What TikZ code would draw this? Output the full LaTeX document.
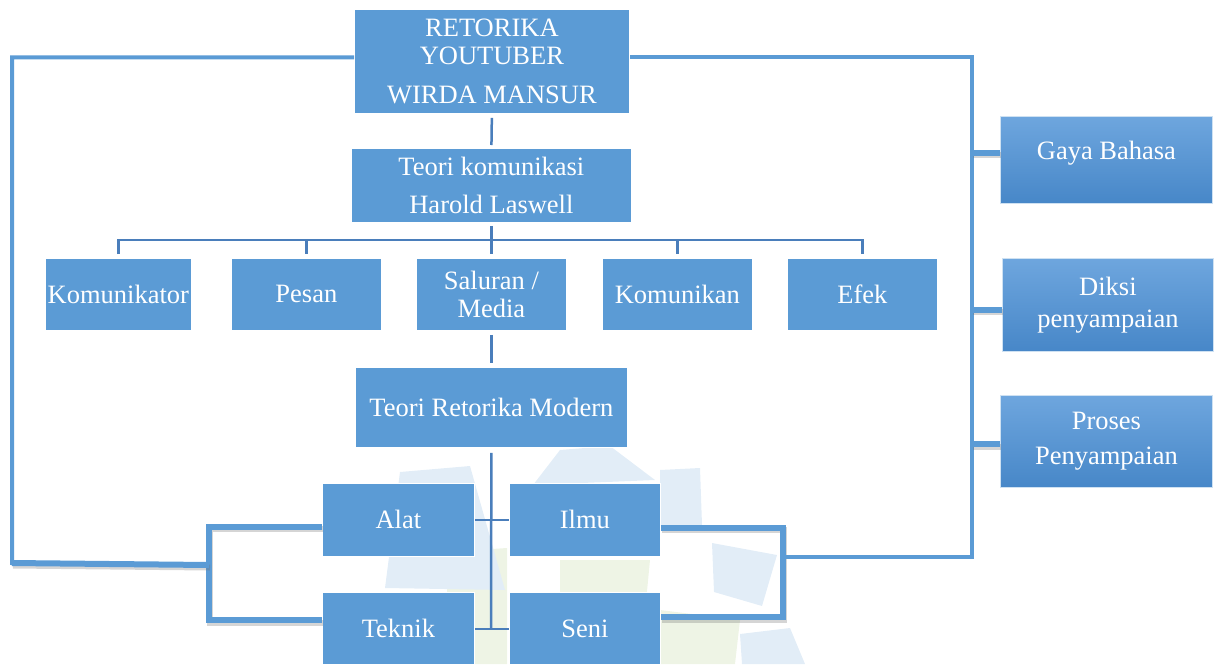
\documentclass[tikz,border=0pt]{standalone}
\usepackage{fontspec}
\setmainfont{Liberation Serif}
\usetikzlibrary{calc}
\definecolor{boxblue}{HTML}{5B9BD5}
\definecolor{treeblue}{HTML}{4A7EBB}
\definecolor{gtop}{HTML}{6EA6DE}
\definecolor{gbot}{HTML}{4787C8}
\definecolor{wmblue}{HTML}{E2EDF7}
\definecolor{wmgreen}{HTML}{EEF4E5}
\begin{document}
\begin{tikzpicture}[x=1pt,y=-1pt,
  box/.style={fill=boxblue, draw=white, line width=0.8pt, text=white,
    font=\fontsize{26.5}{30}\selectfont, align=center, inner sep=0pt, anchor=north west},
  rbox/.style={box, top color=gtop, bottom color=gbot, draw=white!70!boxblue},
  txt/.style={text=white, font=\fontsize{26.5}{30}\selectfont, align=center, inner sep=0pt},
  tree/.style={draw=treeblue, line width=2.5pt},
  frame/.style={draw=boxblue, line width=4pt},
  bracket/.style={draw=boxblue, line width=6pt,
    preaction={draw=black!55, opacity=.3, line width=6pt, transform canvas={shift={(1pt,-2.5pt)}}}},
  wmb/.style={fill=wmblue},
  wmg/.style={fill=wmgreen}
]
\useasboundingbox (0,0) rectangle (1214,664);
% faint watermark logo
\fill[wmg] (447,552) -- (507,548) -- (507,664) -- (447,664) -- cycle;
\fill[wmg] (560,560) -- (650,560) -- (640,664) -- (560,664) -- cycle;
\fill[wmg] (660,610) -- (740,620) -- (735,664) -- (660,664) -- cycle;
\fill[wmb] (400,472) -- (470,466) -- (505,590) -- (385,588) -- cycle;
\fill[wmb] (533,485) -- (560,450) -- (610,446) -- (655,480) -- cycle;
\fill[wmb] (660,470) -- (700,468) -- (702,525) -- (660,525) -- cycle;
\fill[wmb] (712,543) -- (777,555) -- (762,606) -- (714,592) -- cycle;
\fill[wmb] (740,634) -- (790,628) -- (805,664) -- (742,664) -- cycle;

% boxes
\node[box, minimum width=275pt, minimum height=104pt] (top) at (354,9)
  {RETORIKA\\[-2pt]YOUTUBER\\[9pt]WIRDA MANSUR};
\node[box, minimum width=280pt, minimum height=74pt] (tk) at (351,148)
  {Teori komunikasi\\[8pt]Harold Laswell};
\node[box, minimum width=146pt, minimum height=72pt] (k1) at (45,258) {Komunikator};
\node[box, minimum width=150pt, minimum height=72pt] (k2) at (231,258) {Pesan};
\node[box, minimum width=150pt, minimum height=72pt] (k3) at (416,258) {Saluran /\\[-2pt]Media};
\node[box, minimum width=150pt, minimum height=72pt] (k4) at (602,258) {Komunikan};
\node[box, minimum width=150pt, minimum height=72pt] (k5) at (787,258) {Efek};
\node[box, minimum width=272pt, minimum height=80pt] (tr) at (355,367) {Teori Retorika Modern};
\node[box, minimum width=152pt, minimum height=73pt] (al) at (322,483) {Alat};
\node[box, minimum width=151pt, minimum height=73pt] (il) at (509,483) {Ilmu};
\node[box, minimum width=152pt, minimum height=72pt] (te) at (322,592) {Teknik};
\node[box, minimum width=151pt, minimum height=72pt] (se) at (509,592) {Seni};
\node[rbox, minimum width=212pt, minimum height=87pt] (gb) at (1000,116) {};
\node[txt] (gbt) at ([yshift=7pt]gb.center) {Gaya Bahasa};
\node[rbox, minimum width=211pt, minimum height=93pt] (dk) at (1002,258) {Diksi\\[2pt]penyampaian};
\node[rbox, minimum width=212pt, minimum height=92pt] (ps) at (1000,395) {Proses\\[5pt]Penyampaian};

% tree connectors
\coordinate (bar) at (491,240);
\coordinate (trunk) at (491,629);
\draw[tree, shorten <=4pt, shorten >=3pt] (top.south) -- (tk.north);
\draw[tree, shorten <=3pt] (tk.south) -- (tk.south |- bar);
\draw[tree, shorten <=4pt, shorten >=4pt] (k1.north) -- (k1.north |- bar) -- (k5.north |- bar) -- (k5.north);
\draw[tree, shorten >=4pt] (k2.north |- bar) -- (k2.north);
\draw[tree, shorten >=4pt] (k3.north |- bar) -- (k3.north);
\draw[tree, shorten >=4pt] (k4.north |- bar) -- (k4.north);
\draw[tree, shorten <=4pt, shorten >=4pt] (k3.south) -- (tr.north);
\draw[tree, shorten <=5pt] (tr.south) -- (trunk);
\draw[tree] (al.east) -- (il.west);
\draw[tree] (te.east |- trunk) -- (se.west |- trunk);

% left frame
\coordinate (lb) at (209,565);
\coordinate (lc) at (12,563);
\draw[bracket] ([yshift=-7pt]al.west) -| (lb) |- ([yshift=8pt]te.west);
\draw[frame] (lb) -- (lc) |- ([yshift=4pt]top.west);
\draw[bracket] (lb) -- (lc);

% right frame
\coordinate (rb) at (783,557);
\coordinate (rc) at (972,557);
\draw[bracket] ([yshift=-8pt]il.east) -| (rb) |- ([yshift=11pt]se.east);
\draw[frame] (rb) -- (rc) |- ([yshift=4pt]top.east);
\coordinate (gbj) at ([yshift=7pt]gb.west);
\coordinate (dkj) at ([yshift=-5pt]dk.west);
\coordinate (psj) at ([yshift=-3pt]ps.west);
\draw[bracket] (rc |- gbj) -- (gbj);
\draw[bracket] (rc |- dkj) -- (dkj);
\draw[bracket] (rc |- psj) -- (psj);
\end{tikzpicture}
\end{document}
